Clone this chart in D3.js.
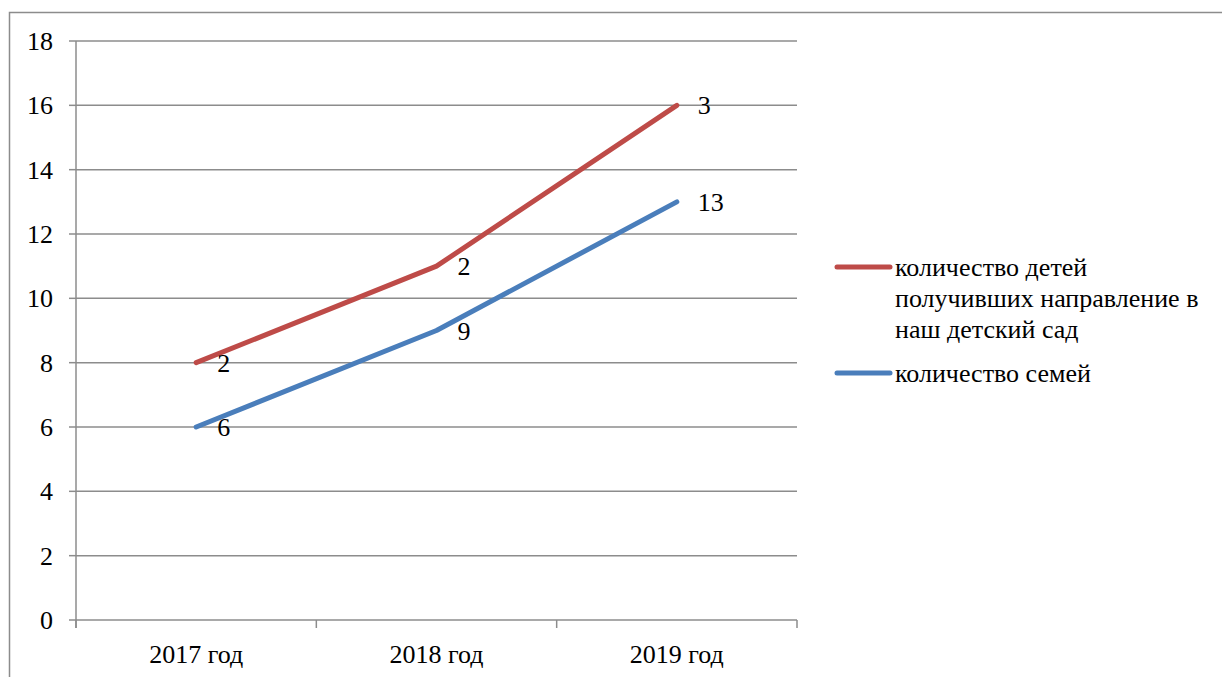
<!DOCTYPE html>
<html>
<head>
<meta charset="utf-8">
<script src="https://cdn.jsdelivr.net/npm/d3@7"></script>
<style>
  body { margin: 0; background: #fff; }
</style>
</head>
<body>
<div id="chart"></div>
<script>
// Categories and series (stacked line chart: red sits on top of blue)
const years = ['2017 год', '2018 год', '2019 год'];
const families = [6, 9, 13];          // количество семей
const children = [2, 2, 3];           // количество детей получивших направление
const yTicks = [0, 2, 4, 6, 8, 10, 12, 14, 16, 18];

const W = 1222, H = 677;
const plot = { left: 76, right: 797, top: 41, bottom: 620 };
const serif = () => "'Times New Roman'";

const svg = d3.select('#chart').append('svg')
  .attr('width', W)
  .attr('height', H);

// Outer chart frame (only top and left visible in the picture)
svg.append('rect')
  .attr('x', 9.5).attr('y', 12.5)
  .attr('width', W + 20).attr('height', H + 20)
  .attr('fill', 'none')
  .attr('stroke', '#8c8c8c')
  .attr('stroke-width', 1.5);

const x = d3.scaleBand().domain(years).range([plot.left, plot.right]);
const y = d3.scaleLinear().domain([0, 18]).range([plot.bottom, plot.top]);

// Horizontal gridlines
svg.append('g').selectAll('line')
  .data(yTicks)
  .enter().append('line')
    .attr('x1', plot.left).attr('x2', plot.right)
    .attr('y1', d => y(d)).attr('y2', d => y(d))
    .attr('stroke', '#8c8c8c')
    .attr('stroke-width', 1.5);

// Y axis labels (drawn as plain text from the scale)
svg.append('line')
  .attr('x1', plot.left).attr('x2', plot.left)
  .attr('y1', plot.top).attr('y2', plot.bottom + 8)
  .attr('stroke', '#8c8c8c').attr('stroke-width', 1.5);
svg.append('g').selectAll('line')
  .data(yTicks)
  .enter().append('line')
    .attr('x1', plot.left - 7).attr('x2', plot.left)
    .attr('y1', d => y(d)).attr('y2', d => y(d))
    .attr('stroke', '#8c8c8c').attr('stroke-width', 1.5);
svg.append('g').selectAll('text')
  .data(yTicks)
  .enter().append('text')
    .style('font-family', serif)
    .style('font-size', '26px')
    .attr('x', plot.left - 23)
    .attr('y', d => y(d) + 9)
    .attr('text-anchor', 'end')
    .text(d => d);

// X axis labels at band centres, ticks at band edges
svg.append('g').selectAll('text')
  .data(years)
  .enter().append('text')
    .style('font-family', serif)
    .style('font-size', '26px')
    .attr('x', d => x(d) + x.bandwidth() / 2)
    .attr('y', plot.bottom + 43)
    .attr('text-anchor', 'middle')
    .text(d => d);

const edges = years.map(d => x(d)).concat([plot.right]);
svg.append('g').selectAll('line')
  .data(edges)
  .enter().append('line')
    .attr('x1', d => d).attr('x2', d => d)
    .attr('y1', plot.bottom).attr('y2', plot.bottom + 8)
    .attr('stroke', '#8c8c8c')
    .attr('stroke-width', 1.5);

// Stacked values
const blueTotals = families;
const redTotals = children.map((v, i) => v + families[i]);

const cx = d => x(d) + x.bandwidth() / 2;
const line = d3.line()
  .x(d => cx(d.year))
  .y(d => y(d.total));

const series = [
  { name: 'количество семей', color: '#4a7ebb', labels: families, totals: blueTotals },
  { name: 'количество детей получивших направление в наш детский сад', color: '#be4b48', labels: children, totals: redTotals }
];

series.forEach(s => {
  const pts = years.map((yr, i) => ({ year: yr, total: s.totals[i], label: s.labels[i] }));
  svg.append('path')
    .datum(pts)
    .attr('d', line)
    .attr('fill', 'none')
    .attr('stroke', s.color)
    .attr('stroke-width', 5)
    .attr('stroke-linecap', 'round')
    .attr('stroke-linejoin', 'round');

  svg.append('g').selectAll('text')
    .data(pts)
    .enter().append('text')
      .style('font-family', serif)
      .style('font-size', '26px')
      .attr('x', d => cx(d.year) + 21)
      .attr('y', d => y(d.total) + 9)
      .text(d => d.label);
});

// Legend (red first, as in the reference)
const legendItems = [
  { color: '#be4b48', lines: ['количество детей', 'получивших направление в', 'наш детский сад'], y: 267 },
  { color: '#4a7ebb', lines: ['количество семей'], y: 373 }
];
const rows = [];
legendItems.forEach(item => {
  svg.append('line')
    .attr('x1', 837).attr('x2', 890)
    .attr('y1', item.y).attr('y2', item.y)
    .attr('stroke', item.color)
    .attr('stroke-width', 5)
    .attr('stroke-linecap', 'round');
  item.lines.forEach((ln, i) => rows.push({ text: ln, y: item.y + 9 + i * 31 }));
});
svg.append('g').selectAll('text')
  .data(rows)
  .enter().append('text')
    .style('font-family', serif)
    .style('font-size', '26px')
    .attr('x', 895)
    .attr('y', d => d.y)
    .text(d => d.text);
</script>
</body>
</html>
